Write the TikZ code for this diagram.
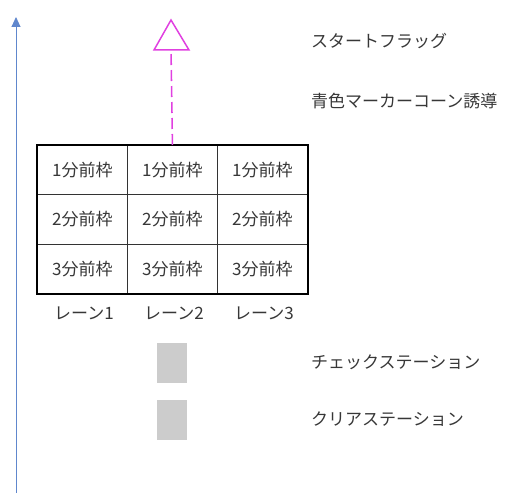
\documentclass[tikz,border=0pt]{standalone}
\usepackage{fontspec}
\setmainfont{Noto Sans CJK JP}
\usetikzlibrary{arrows.meta}
\definecolor{axisblue}{RGB}{68,114,196}
\definecolor{flagmag}{RGB}{224,64,224}
\definecolor{stgray}{RGB}{204,204,204}
\definecolor{txtgray}{RGB}{55,55,55}
\tikzset{
  cell/.style={draw=black!80, line width=0.9pt, minimum width=90bp, minimum height=49.33bp, inner sep=0pt, font=\fontsize{17bp}{19bp}\selectfont, text=txtgray, anchor=north west},
  lbl/.style={font=\fontsize{17bp}{19bp}\selectfont, text=txtgray, inner sep=0pt},
  rlbl/.style={lbl, anchor=west},
  station/.style={fill=stgray, draw=none, minimum width=30bp, minimum height=40bp, inner sep=0pt, anchor=north west},
}
\begin{document}
\begin{tikzpicture}[x=1bp,y=-1bp]
\useasboundingbox (0,0) rectangle (505,493);
% axis
\coordinate (ax0) at (16,493);
\coordinate (ax1) at (16,17);
\draw[axisblue!85, line width=0.9pt, -{Triangle[length=10bp,width=9bp]}] (ax0) -- (ax1);
% flag
\coordinate (fA) at (171,20);
\coordinate (fB) at (154,50);
\coordinate (fC) at (189,50);
\coordinate (fbase) at (171,50);
\draw[flagmag, line width=1.5pt] (fA) -- (fB) -- (fC) -- cycle;
% grid
\foreach \r in {1,2,3}{
  \foreach \c in {1,2,3}{
    \node[cell] (c\r\c) at ({37+90*(\c-1)},{145+49.33*(\r-1)}) {\r 分前枠};
  }
}
\draw[line width=1.6pt] (c11.north west) rectangle (c33.south east);
\draw[flagmag, line width=1.6pt, dash pattern=on 11bp off 5bp] (c12.north) -- (fbase);
% lane labels
\foreach \c in {1,2,3}{
  \node[lbl] (lane\c) at ({84+90*(\c-1)},313) {レーン\c};
}
% stations
\node[station] (st1) at (157,343) {};
\node[station] (st2) at (157,400) {};
% right labels
\node[rlbl] (t1) at (311,41) {スタートフラッグ};
\node[rlbl] (t2) at (311,101) {青色マーカーコーン誘導};
\node[rlbl] (t3) at (311,362) {チェックステーション};
\node[rlbl] (t4) at (311,419) {クリアステーション};
\end{tikzpicture}
\end{document}
